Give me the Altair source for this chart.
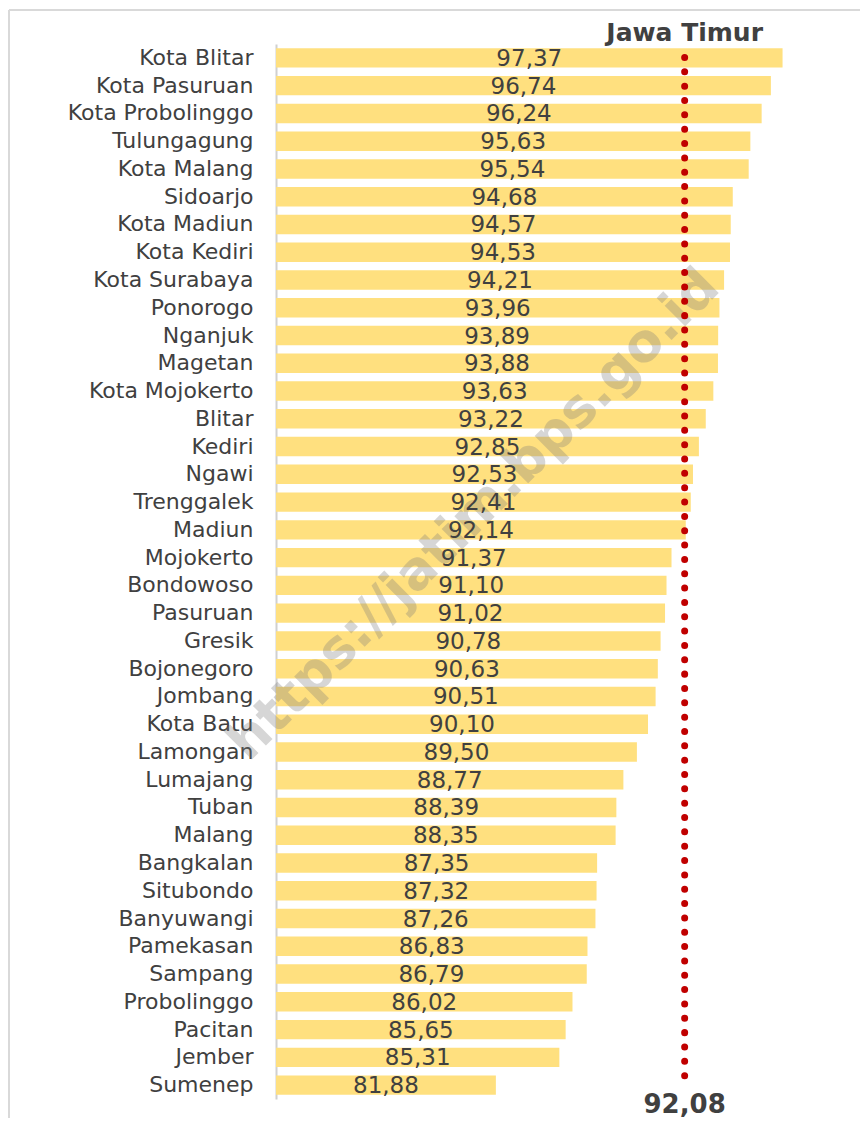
import altair as alt
import pandas as pd

regions = [
    "Kota Blitar", "Kota Pasuruan", "Kota Probolinggo", "Tulungagung", "Kota Malang",
    "Sidoarjo", "Kota Madiun", "Kota Kediri", "Kota Surabaya", "Ponorogo",
    "Nganjuk", "Magetan", "Kota Mojokerto", "Blitar", "Kediri",
    "Ngawi", "Trenggalek", "Madiun", "Mojokerto", "Bondowoso",
    "Pasuruan", "Gresik", "Bojonegoro", "Jombang", "Kota Batu",
    "Lamongan", "Lumajang", "Tuban", "Malang", "Bangkalan",
    "Situbondo", "Banyuwangi", "Pamekasan", "Sampang", "Probolinggo",
    "Pacitan", "Jember", "Sumenep",
]
values = [
    97.37, 96.74, 96.24, 95.63, 95.54,
    94.68, 94.57, 94.53, 94.21, 93.96,
    93.89, 93.88, 93.63, 93.22, 92.85,
    92.53, 92.41, 92.14, 91.37, 91.10,
    91.02, 90.78, 90.63, 90.51, 90.10,
    89.50, 88.77, 88.39, 88.35, 87.35,
    87.32, 87.26, 86.83, 86.79, 86.02,
    85.65, 85.31, 81.88,
]
province_name = "Jawa Timur"
province_value = 92.08
watermark = "https://jatim.bps.go.id"

x_min, x_max = 70, 101.5

df = pd.DataFrame({"region": regions, "value": values})
df["label"] = [f"{v:.2f}".replace(".", ",") for v in values]
df["mid"] = [(x_min + v) / 2 for v in values]

prov = pd.DataFrame({"value": [province_value], "name": [province_name],
                     "label": [f"{province_value:.2f}".replace(".", ",")]})

W, H = 583, 1055
FONT = "DejaVu Sans"
TXT = "#404040"

xscale = alt.Scale(domain=[x_min, x_max], nice=False, zero=False)
yscale = alt.Scale(paddingInner=0.3, paddingOuter=0.15)

base = alt.Chart(df)

bars = base.mark_bar(color="#FFE07F").encode(
    x=alt.X("value:Q", scale=xscale, axis=None),
    x2=alt.datum(x_min),
    y=alt.Y("region:N", sort=None, scale=yscale,
            axis=alt.Axis(title=None, ticks=False, labelFont=FONT, labelFontSize=22,
                          labelColor=TXT, labelPadding=23, domainColor="#d0d0d0",
                          domainWidth=2, labelLimit=400)),
)

wm = alt.Chart(prov).mark_text(
    text=watermark, font=FONT, fontWeight="bold", fontSize=53, angle=315,
    color="#7a7a7a", opacity=0.3, align="center", baseline="middle",
).encode(x=alt.value(198), y=alt.value(471))

labels = base.mark_text(font=FONT, fontSize=23, color=TXT, baseline="middle",
                        align="center", dy=1).encode(
    x=alt.X("mid:Q", scale=xscale),
    y=alt.Y("region:N", sort=None, scale=yscale),
    text="label:N",
)

dots = alt.Chart(prov).mark_rule(
    color="#C00000", strokeWidth=7, strokeCap="round", strokeDash=[0.01, 14.33]
).encode(
    x=alt.X("value:Q", scale=xscale),
    y=alt.value(13.5), y2=alt.value(1034),
)

top_label = alt.Chart(prov).mark_text(
    font=FONT, fontSize=25, fontWeight="bold", color=TXT, baseline="alphabetic", align="center"
).encode(x=alt.X("value:Q", scale=xscale), y=alt.value(-3), text="name:N")

bottom_label = alt.Chart(prov).mark_text(
    font=FONT, fontSize=26, fontWeight="bold", color=TXT, baseline="alphabetic", align="center"
).encode(x=alt.X("value:Q", scale=xscale), y=alt.value(1069), text="label:N")

border_left = alt.Chart(prov).mark_rule(color="#d9d9d9", strokeWidth=2).encode(
    x=alt.value(-267), y=alt.value(-34), y2=alt.value(1200))
border_top = alt.Chart(prov).mark_rule(color="#d9d9d9", strokeWidth=2).encode(
    x=alt.value(-267), x2=alt.value(700), y=alt.value(-34))

chart = alt.layer(
    border_left, border_top, bars, wm, labels, dots, top_label, bottom_label
).properties(
    width=W, height=H,
    autosize=alt.AutoSizeParams(type="none"),
    padding={"left": 268, "top": 36, "right": 1, "bottom": 19},
    background="white",
).configure_view(stroke=None)

chart.save("out.html", embed_options={"renderer": "svg", "actions": False})
